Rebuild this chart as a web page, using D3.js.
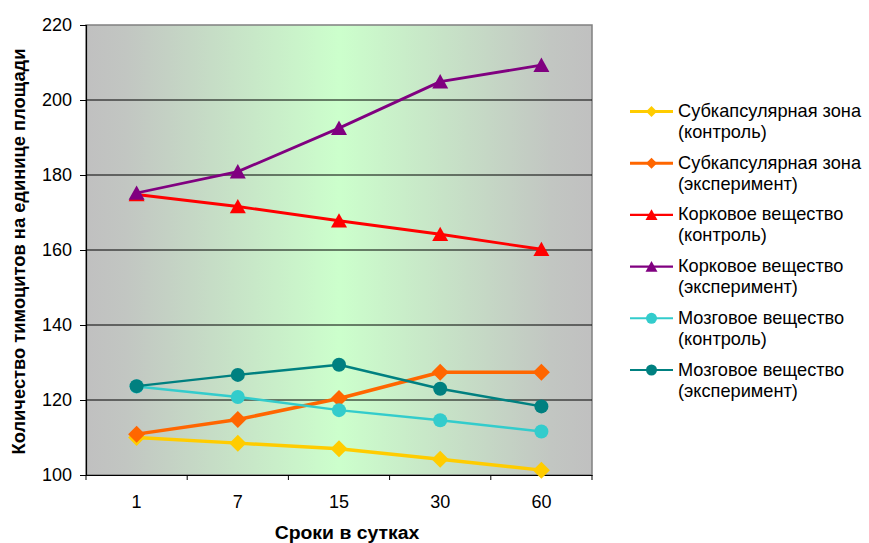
<!DOCTYPE html>
<html>
<head>
<meta charset="utf-8">
<script src="https://cdn.jsdelivr.net/npm/d3@7"></script>
<style>
  html, body { margin: 0; padding: 0; background: #fff; }
  svg { display: block; font-family: "Liberation Sans", Arial, sans-serif; }
</style>
</head>
<body>
<svg id="chart" width="869" height="543"></svg>
<script>
const categories = ["1", "7", "15", "30", "60"];
const yTicks = [100, 120, 140, 160, 180, 200, 220];

const seriesNames = [
  ["Субкапсулярная зона", "(контроль)"],
  ["Субкапсулярная зона", "(эксперимент)"],
  ["Корковое вещество", "(контроль)"],
  ["Корковое вещество", "(эксперимент)"],
  ["Мозговое вещество", "(контроль)"],
  ["Мозговое вещество", "(эксперимент)"]
];
const subcapControl = [110.0, 108.5, 107.0, 104.2, 101.3];
const subcapExperiment = [110.9, 114.8, 120.4, 127.4, 127.4];
const cortexControl = [174.8, 171.6, 167.8, 164.2, 160.2];
const cortexExperiment = [175.2, 180.9, 192.5, 204.9, 209.3];
const medullaControl = [123.6, 120.8, 117.3, 114.6, 111.6];
const medullaExperiment = [123.7, 126.7, 129.4, 123.0, 118.3];

const seriesValues = [subcapControl, subcapExperiment, cortexControl, cortexExperiment, medullaControl, medullaExperiment];
const seriesColors = ["#FFCC00", "#FF6600", "#FF0000", "#800080", "#33CCCC", "#008080"];
const seriesMarkers = ["diamond", "diamond", "triangle", "triangle", "circle", "circle"];
const seriesWidths = [3.5, 3.5, 2.8, 2.8, 2.5, 2.5];

const svg = d3.select("#chart");
const plot = { left: 86, right: 592, top: 25, bottom: 475 };

const x = d3.scaleBand().domain(categories).range([plot.left, plot.right]);
const y = d3.scaleLinear().domain([100, 220]).range([plot.bottom, plot.top]);

// background gradient
const defs = svg.append("defs");
const grad = defs.append("linearGradient").attr("id", "bg").attr("x1", "0%").attr("x2", "100%").attr("y1", "0%").attr("y2", "0%");
grad.append("stop").attr("offset", "0%").attr("stop-color", "#C0C0C0");
grad.append("stop").attr("offset", "8%").attr("stop-color", "#C2C6C2");
grad.append("stop").attr("offset", "50%").attr("stop-color", "#CCFFCC");
grad.append("stop").attr("offset", "92%").attr("stop-color", "#C2C6C2");
grad.append("stop").attr("offset", "100%").attr("stop-color", "#C0C0C0");

svg.append("rect")
  .attr("x", plot.left).attr("y", plot.top)
  .attr("width", plot.right - plot.left).attr("height", plot.bottom - plot.top)
  .attr("fill", "url(#bg)")
  .attr("stroke", "#808080").attr("stroke-width", 1.5);

// gridlines
svg.append("g").selectAll("line").data(yTicks.filter(t => t > 100 && t < 220)).join("line")
  .attr("x1", plot.left).attr("x2", plot.right)
  .attr("y1", d => y(d)).attr("y2", d => y(d))
  .attr("stroke", "#000").attr("stroke-width", 1);

// y axis
const yAxis = svg.append("g").attr("transform", `translate(${plot.left},0)`)
  .call(d3.axisLeft(y).tickValues(yTicks).tickSize(6).tickPadding(8));
yAxis.select(".domain").attr("stroke", "#000").attr("stroke-width", 1.2);
yAxis.selectAll(".tick line").attr("stroke", "#000");
yAxis.selectAll(".tick text").attr("font-size", "18px").attr("fill", "#000")
  .attr("font-family", "Liberation Sans, Arial, sans-serif");

// x axis
const xAxis = svg.append("g").attr("transform", `translate(0,${plot.bottom})`)
  .call(d3.axisBottom(x).tickSize(0).tickPadding(20));
xAxis.select(".domain").attr("stroke", "#000").attr("stroke-width", 1.2);
xAxis.selectAll(".tick text").attr("font-size", "18px").attr("fill", "#000")
  .attr("font-family", "Liberation Sans, Arial, sans-serif");
// tick marks between categories
const bounds = categories.map(c => x(c)).concat([x(categories[categories.length - 1]) + x.bandwidth()]);
svg.append("g").selectAll("line").data(bounds).join("line")
  .attr("x1", d => d).attr("x2", d => d)
  .attr("y1", plot.bottom).attr("y2", plot.bottom + 5)
  .attr("stroke", "#000").attr("stroke-width", 1);

// axis titles
svg.append("text")
  .attr("transform", "translate(347,539) scale(1.05,1)")
  .attr("text-anchor", "middle").attr("font-size", "18.5px").attr("font-weight", "bold")
  .text("Сроки в сутках");
svg.append("text")
  .attr("transform", `translate(25,251.5) rotate(-90) scale(1.03,1)`)
  .attr("text-anchor", "middle").attr("font-size", "17.8px").attr("font-weight", "bold")
  .text("Количество тимоцитов на единице площади");

function markerPathSized(type, s) {
  if (type === "diamond") {
    const h = s / 2;
    return `M0,${-h}L${h},0L0,${h}L${-h},0Z`;
  }
  if (type === "triangle") {
    const h = s / 2;
    return `M0,${-h * 0.95}L${h},${h * 0.85}L${-h},${h * 0.85}Z`;
  }
  const r = s / 2;
  return `M${r},0A${r},${r} 0 1,1 ${-r},0A${r},${r} 0 1,1 ${r},0Z`;
}

const line = d3.line().x((d, i) => x(categories[i]) + x.bandwidth() / 2).y(d => y(d));

seriesValues.forEach((vals, si) => {
  const g = svg.append("g");
  g.append("path").datum(vals).attr("d", line)
    .attr("fill", "none").attr("stroke", seriesColors[si]).attr("stroke-width", seriesWidths[si])
    .attr("stroke-linejoin", "round");
  const size = seriesMarkers[si] === "diamond" ? 17 : (seriesMarkers[si] === "triangle" ? 16 : 14);
  g.selectAll("path.m").data(vals).join("path").attr("class", "m")
    .attr("transform", (d, i) => `translate(${x(categories[i]) + x.bandwidth() / 2},${y(d)})`)
    .attr("d", markerPathSized(seriesMarkers[si], size))
    .attr("fill", seriesColors[si]);
});

// legend
const legend = svg.append("g");
const legendTop = 111.5;
const legendStep = 51.7;
seriesNames.forEach((name, si) => {
  const cy = legendTop + si * legendStep;
  legend.append("line").attr("x1", 630).attr("x2", 673).attr("y1", cy).attr("y2", cy)
    .attr("stroke", seriesColors[si]).attr("stroke-width", seriesWidths[si] * 0.85);
  const size = seriesMarkers[si] === "diamond" ? 11 : (seriesMarkers[si] === "triangle" ? 12 : 11);
  legend.append("path").attr("transform", `translate(651.5,${cy})`)
    .attr("d", markerPathSized(seriesMarkers[si], size)).attr("fill", seriesColors[si]);
  legend.append("text").attr("x", 678).attr("y", cy + 5.5).attr("font-size", "18.2px").text(name[0]);
  legend.append("text").attr("x", 678).attr("y", cy + 26.5).attr("font-size", "18.2px").text(name[1]);
});
</script>
</body>
</html>
